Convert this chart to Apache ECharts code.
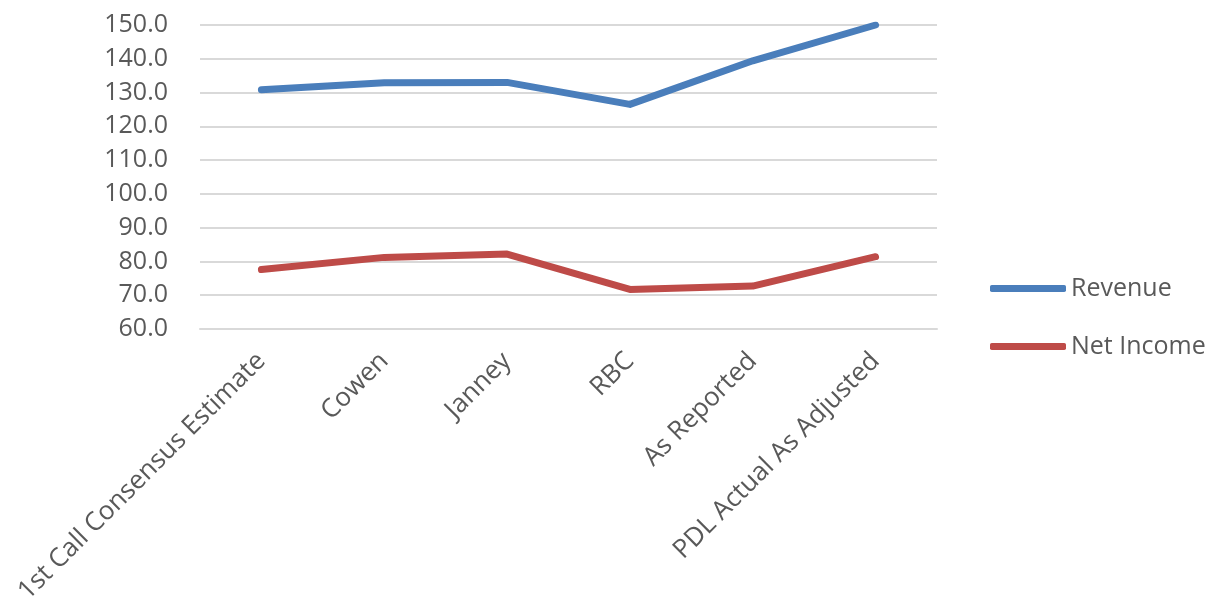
<!DOCTYPE html>
<html>
<head>
<meta charset="utf-8">
<script src="https://cdn.jsdelivr.net/npm/echarts@6/dist/echarts.min.js"></script>
<style>
html,body{margin:0;padding:0;background:#fff;}
#c{width:1215px;height:615px;}
</style>
</head>
<body>
<div id="c"></div>
<script>
var categories = ['1st Call Consensus Estimate', 'Cowen', 'Janney', 'RBC', 'As Reported', 'PDL Actual As Adjusted'];
var revenue = [130.8, 132.9, 133.0, 126.5, 139.4, 150.0];
var netIncome = [77.6, 81.2, 82.2, 71.7, 72.7, 81.4];
var seriesNames = ['Revenue', 'Net Income'];

var chart = echarts.init(document.getElementById('c'));
var font = '"Open Sans", Lato, sans-serif';
chart.setOption({
  animation: false,
  backgroundColor: '#fff',
  grid: { left: 200, right: 278, top: 25, bottom: 286, containLabel: false, outerBoundsMode: 'none' },
  legend: {
    orient: 'vertical',
    left: 985,
    top: 271,
    itemWidth: 76,
    itemHeight: 7,
    itemGap: 33,
    icon: 'roundRect',
    data: seriesNames,
    textStyle: { fontFamily: font, fontSize: 25, color: '#595959' }
  },
  xAxis: {
    type: 'category',
    data: categories,
    boundaryGap: true,
    axisLine: { show: true, lineStyle: { color: '#d9d9d9', width: 2 } },
    axisTick: { show: false },
    axisLabel: { rotate: 45, margin: 28, interval: 0, fontFamily: font, fontSize: 26, color: '#595959' }
  },
  yAxis: {
    type: 'value',
    min: 60,
    max: 150,
    interval: 10,
    axisLine: { show: false },
    axisTick: { show: false },
    splitLine: { lineStyle: { color: '#d9d9d9', width: 2 } },
    axisLabel: { margin: 32, fontFamily: font, fontSize: 25, color: '#595959',
      formatter: function (v) { return v.toFixed(1); } }
  },
  series: [
    { name: seriesNames[0], type: 'line', data: revenue, symbol: 'none',
      lineStyle: { color: '#4a7ebb', width: 7, cap: 'round', join: 'round' }, itemStyle: { color: '#4a7ebb' } },
    { name: seriesNames[1], type: 'line', data: netIncome, symbol: 'none',
      lineStyle: { color: '#be4b48', width: 7, cap: 'round', join: 'round' }, itemStyle: { color: '#be4b48' } }
  ]
});
</script>
</body>
</html>
